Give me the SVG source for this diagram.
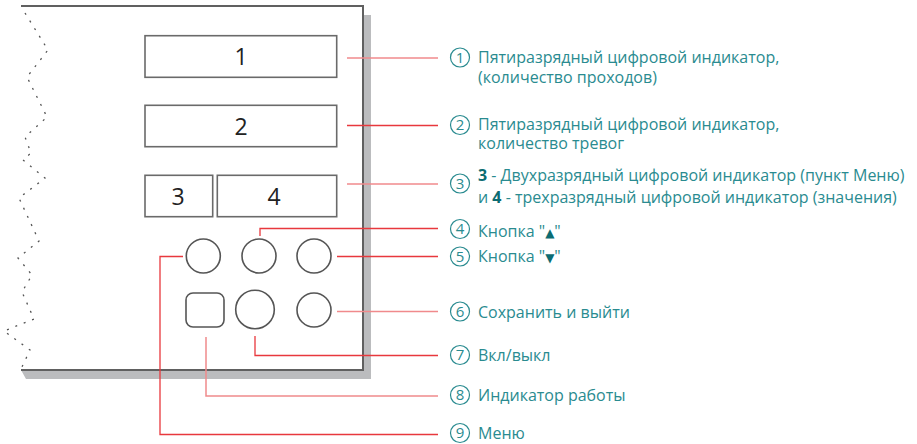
<svg xmlns="http://www.w3.org/2000/svg" width="917" height="444" viewBox="0 0 917 444">
<style>
.frame{fill:none;stroke:#606060;stroke-width:2}
.box{fill:#fff;stroke:#6a6a6a;stroke-width:1.6}
.btn{fill:#fff;stroke:#555;stroke-width:1.6}
.num{font-family:"Open Sans","Liberation Sans",sans-serif;font-size:23px;fill:#222;text-anchor:middle}
.lbl{font-family:"Open Sans","Liberation Sans",sans-serif;font-size:16px;fill:#2a8b90}
.b{font-weight:bold;fill:#0c6c72}
.tri{font-family:"DejaVu Sans",sans-serif;font-size:12px;fill:#0c6c72}
.cn{fill:none;stroke:#2a8b90;stroke-width:1.2}
.cd{font-family:"Open Sans","Liberation Sans",sans-serif;font-size:15px;fill:#2a8b90;text-anchor:middle}
.ln{fill:none;stroke:#e8383d;stroke-width:1.3}
.lt{fill:none;stroke:#f08a8c;stroke-width:1.5}
</style>
<g id="panel">
<polygon points="363,15 371,15 371,379 26,379 21,370 363,370" fill="#bbbcbe"/>
<rect x="20" y="6" width="343" height="364" fill="#fff"/>
<polyline class="frame" points="21,6 363,6 363,370 21,370"/>
<polyline points="25,13 48,50 27,77 47,117 25,137 31,153 23,160 45,178 19,198 39,241 18,258 32,275 22,292 34,319 4,331 30,350 21,369" fill="none" stroke="#555" stroke-width="1.3" stroke-dasharray="2 7"/>
</g>
<g id="connectors">
<line class="lt" x1="347" y1="58" x2="438" y2="58"/>
<line class="ln" x1="347" y1="125.5" x2="438" y2="125.5"/>
<line class="lt" x1="347" y1="184" x2="438" y2="184"/>
<polyline class="ln" points="260,236 260,228.5 438,228.5"/>
<line class="ln" x1="337" y1="256.5" x2="438" y2="256.5"/>
<line class="lt" x1="337" y1="311.5" x2="438" y2="311.5"/>
<polyline class="ln" points="255,336 255,355.5 438,355.5"/>
<polyline class="lt" points="206,337 206,396 438,396"/>
<polyline class="ln" points="183,256.5 160,256.5 160,434.5 438,434.5"/>
</g>
<g id="ind1"><rect class="box" x="145" y="35.7" width="191.7" height="41.6"/><text class="num" x="241" y="65">1</text></g>
<g id="ind2"><rect class="box" x="145" y="105.3" width="191.7" height="41.4"/><text class="num" x="241" y="135">2</text></g>
<g id="ind3"><rect class="box" x="145" y="175.3" width="67.7" height="41.4"/><text class="num" x="178" y="205">3</text></g>
<g id="ind4"><rect class="box" x="217.3" y="175.3" width="119.4" height="41.4"/><text class="num" x="274" y="205">4</text></g>
<g id="btn-menu"><circle class="btn" cx="203.3" cy="256" r="17"/></g>
<g id="btn-up"><circle class="btn" cx="259" cy="256" r="17"/></g>
<g id="btn-down"><circle class="btn" cx="314" cy="256" r="17"/></g>
<g id="led"><rect class="btn" x="186" y="293" width="38" height="34" rx="7"/></g>
<g id="btn-power"><circle class="btn" cx="255" cy="309.5" r="19.3"/></g>
<g id="btn-save"><circle class="btn" cx="314" cy="310" r="17"/></g>
<g id="label1"><circle class="cn" cx="460" cy="57.5" r="9.5"/><text class="cd" x="460" y="62.8">1</text>
<text class="lbl" x="478" y="63.3">Пятиразрядный цифровой индикатор,</text>
<text class="lbl" x="478" y="82.5">(количество проходов)</text></g>
<g id="label2"><circle class="cn" cx="460" cy="125" r="9.5"/><text class="cd" x="460" y="130.3">2</text>
<text class="lbl" x="478" y="130">Пятиразрядный цифровой индикатор,</text>
<text class="lbl" x="478" y="149">количество тревог</text></g>
<g id="label3"><circle class="cn" cx="460" cy="183.5" r="9.5"/><text class="cd" x="460" y="188.8">3</text>
<text class="lbl" x="478" y="181"><tspan class="b">3</tspan> - Двухразрядный цифровой индикатор (пункт Меню)</text>
<text class="lbl" x="478" y="203">и <tspan class="b">4</tspan> - трехразрядный цифровой индикатор (значения)</text></g>
<g id="label4"><circle class="cn" cx="460" cy="229" r="9.5"/><text class="cd" x="460" y="234.3">4</text>
<text class="lbl" x="478" y="236.5">Кнопка "<tspan class="tri">▲</tspan>"</text></g>
<g id="label5"><circle class="cn" cx="460" cy="256.5" r="9.5"/><text class="cd" x="460" y="261.8">5</text>
<text class="lbl" x="478" y="261.7">Кнопка "<tspan class="tri">▼</tspan>"</text></g>
<g id="label6"><circle class="cn" cx="460" cy="311.5" r="9.5"/><text class="cd" x="460" y="316.8">6</text>
<text class="lbl" x="478" y="318">Сохранить и выйти</text></g>
<g id="label7"><circle class="cn" cx="460" cy="355" r="9.5"/><text class="cd" x="460" y="360.3">7</text>
<text class="lbl" x="478" y="360.7">Вкл/выкл</text></g>
<g id="label8"><circle class="cn" cx="460" cy="395" r="9.5"/><text class="cd" x="460" y="400.3">8</text>
<text class="lbl" x="478" y="401">Индикатор работы</text></g>
<g id="label9"><circle class="cn" cx="460" cy="433" r="9.5"/><text class="cd" x="460" y="438.3">9</text>
<text class="lbl" x="478" y="439">Меню</text></g>
</svg>
